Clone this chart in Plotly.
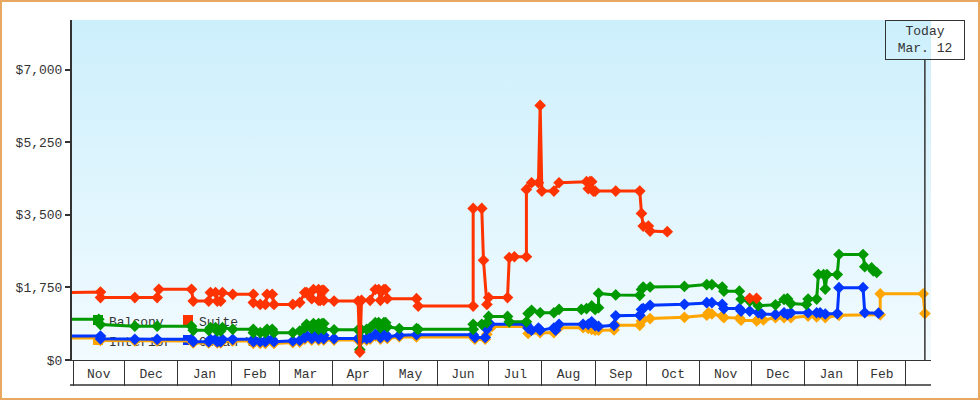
import base64
import plotly.graph_objects as go

# ---------------- data ----------------
suite_dates = [
    "2017-10-31", "2017-11-17", "2017-11-17", "2017-12-07", "2017-12-20", "2017-12-21",
    "2018-01-09", "2018-01-10", "2018-01-19", "2018-01-20", "2018-01-23", "2018-01-24",
    "2018-01-26", "2018-01-27", "2018-02-02", "2018-02-14", "2018-02-14", "2018-02-18",
    "2018-02-21", "2018-02-22", "2018-02-25", "2018-02-26", "2018-03-09", "2018-03-13",
    "2018-03-16", "2018-03-17", "2018-03-20", "2018-03-21", "2018-03-24", "2018-03-24",
    "2018-03-25", "2018-03-26", "2018-03-27", "2018-03-27", "2018-04-02", "2018-04-16",
    "2018-04-17", "2018-04-18", "2018-04-23", "2018-04-26", "2018-04-28", "2018-04-29",
    "2018-05-01", "2018-05-02", "2018-05-03", "2018-05-20", "2018-05-21", "2018-06-22",
    "2018-06-22", "2018-06-27", "2018-06-28", "2018-06-30", "2018-07-01", "2018-07-12",
    "2018-07-13", "2018-07-16", "2018-07-23", "2018-07-23", "2018-07-26", "2018-07-30",
    "2018-07-31", "2018-08-01", "2018-08-08", "2018-08-11", "2018-08-27", "2018-08-28",
    "2018-08-29", "2018-08-30", "2018-08-31", "2018-09-01", "2018-09-13", "2018-09-27",
    "2018-09-28", "2018-09-29", "2018-10-02", "2018-10-03", "2018-10-13", None,
    "2018-11-30", "2018-12-04",
]
suite_prices = [
    1625, 1640, 1505, 1505, 1505, 1705,
    1705, 1420, 1420, 1625, 1625, 1420,
    1420, 1625, 1585, 1585, 1385, 1340,
    1340, 1585, 1585, 1340, 1340, 1385,
    1625, 1625, 1480, 1700, 1700, 1440,
    1440, 1680, 1680, 1440, 1420, 1420,
    190, 1440, 1440, 1700, 1700, 1440,
    1700, 1700, 1480, 1480, 1300, 1300,
    3655, 3655, 2405, 1340, 1505, 1505,
    2470, 2490, 2490, 4115, 4275, 4275,
    6140, 4075, 4075, 4275, 4300, 4130,
    4300, 4300, 4075, 4075, 4075, 4075,
    3535, 3230, 3230, 3110, 3095, None,
    1487, 1487,
]

balcony_dates = [
    "2017-10-31", "2017-11-16", "2017-11-17", "2017-12-07", "2017-12-20", "2018-01-09",
    "2018-01-10", "2018-01-19", "2018-01-20", "2018-01-23", "2018-01-24", "2018-01-26",
    "2018-01-27", "2018-02-02", "2018-02-14", "2018-02-14", "2018-02-18", "2018-02-21",
    "2018-02-22", "2018-02-25", "2018-02-26", "2018-03-09", "2018-03-13", "2018-03-16",
    "2018-03-17", "2018-03-20", "2018-03-21", "2018-03-24", "2018-03-24", "2018-03-26",
    "2018-03-27", "2018-03-27", "2018-04-02", "2018-04-16", "2018-04-17", "2018-04-18",
    "2018-04-21", "2018-04-23", "2018-04-26", "2018-04-28", "2018-04-29", "2018-05-01",
    "2018-05-02", "2018-05-03", "2018-05-10", "2018-05-20", "2018-05-21", "2018-06-22",
    "2018-06-22", "2018-06-27", "2018-06-30", "2018-07-01", "2018-07-12", "2018-07-13",
    "2018-07-23", "2018-07-24", "2018-07-26", "2018-07-31", "2018-08-08", "2018-08-11",
    "2018-08-24", "2018-08-27", "2018-08-30", "2018-09-01", "2018-09-03", "2018-09-03",
    "2018-09-13", "2018-09-27", "2018-09-28", "2018-09-29", "2018-10-03", "2018-10-23",
    "2018-11-05", "2018-11-08", "2018-11-14", "2018-11-15", "2018-11-24", "2018-11-25",
    "2018-11-30", "2018-12-05", "2018-12-15", "2018-12-20", "2018-12-22", "2018-12-24",
    "2019-01-02", "2019-01-03", "2019-01-08", "2019-01-09", "2019-01-12", "2019-01-13",
    "2019-01-14", "2019-01-20", "2019-01-21", "2019-02-04", "2019-02-05", "2019-02-09",
    "2019-02-10", "2019-02-12",
]
balcony_prices = [
    980, 980, 855, 815, 815, 815,
    715, 715, 780, 780, 700, 700,
    780, 740, 740, 660, 660, 660,
    740, 740, 660, 660, 700, 780,
    860, 760, 880, 880, 740, 880,
    880, 740, 730, 730, 250, 730,
    740, 780, 900, 900, 780, 900,
    900, 800, 760, 760, 740, 740,
    860, 860, 900, 1050, 1050, 920,
    920, 1120, 1200, 1140, 1140, 1220,
    1220, 1240, 1305, 1220, 1260, 1605,
    1570, 1560, 1700, 1760, 1760, 1775,
    1820, 1820, 1760, 1660, 1660, 1465,
    1420, 1310, 1330, 1460, 1480, 1360,
    1340, 1470, 1470, 2060, 2060, 1710,
    2060, 2060, 2545, 2545, 2250, 2220,
    2150, 2110,
]

ocean_dates = [
    "2017-10-31", "2017-11-17", "2017-11-17", "2017-12-07", "2017-12-20", "2018-01-09",
    "2018-01-10", "2018-01-19", "2018-01-20", "2018-01-23", "2018-01-24", "2018-01-26",
    "2018-01-27", "2018-02-02", "2018-02-14", "2018-02-14", "2018-02-18", "2018-02-21",
    "2018-02-22", "2018-02-25", "2018-02-26", "2018-03-09", "2018-03-13", "2018-03-16",
    "2018-03-17", "2018-03-20", "2018-03-21", "2018-03-24", "2018-03-24", "2018-03-26",
    "2018-03-27", "2018-03-27", "2018-04-02", "2018-04-16", "2018-04-18", "2018-04-21",
    "2018-04-23", "2018-04-26", "2018-04-28", "2018-04-29", "2018-05-01", "2018-05-02",
    "2018-05-03", "2018-05-10", "2018-05-20", "2018-06-22", "2018-06-23", "2018-06-29",
    "2018-06-30", "2018-07-02", "2018-07-23", "2018-07-24", "2018-07-26", "2018-07-30",
    "2018-07-31", "2018-08-08", "2018-08-09", "2018-08-11", "2018-08-25", "2018-08-28",
    "2018-08-30", "2018-09-01", "2018-09-03", "2018-09-12", "2018-09-13", "2018-09-27",
    "2018-09-28", "2018-09-29", "2018-10-03", "2018-10-23", "2018-11-05", "2018-11-08",
    "2018-11-14", "2018-11-15", "2018-11-24", "2018-11-25", "2018-11-30", "2018-12-05",
    "2018-12-07", "2018-12-15", "2018-12-20", "2018-12-22", "2018-12-24", "2019-01-03",
    "2019-01-08", "2019-01-10", "2019-01-13", "2019-01-20", "2019-01-21", "2019-02-04",
    "2019-02-05", "2019-02-13",
]
ocean_prices = [
    578, 578, 510, 499, 499, 499,
    440, 440, 499, 499, 440, 440,
    499, 499, 499, 440, 440, 440,
    499, 499, 440, 458, 470, 540,
    595, 520, 595, 595, 516, 595,
    595, 516, 516, 516, 516, 516,
    540, 620, 620, 540, 620, 620,
    560, 595, 610, 610, 545, 545,
    740, 865, 865, 770, 720, 770,
    720, 770, 720, 860, 860, 860,
    920, 830, 810, 836, 1065, 1077,
    1220, 1240, 1318, 1342, 1383, 1383,
    1342, 1240, 1240, 1180, 1180, 1140,
    1110, 1100, 1140, 1100, 1140, 1140,
    1140, 1140, 1110, 1120, 1745, 1745,
    1140, 1130,
]

interior_dates = [
    "2017-10-31", "2017-11-17", "2017-11-17", "2017-12-07", "2017-12-20", "2018-01-09",
    "2018-01-10", "2018-01-19", "2018-01-20", "2018-01-23", "2018-01-24", "2018-01-26",
    "2018-01-27", "2018-02-02", "2018-02-14", "2018-02-14", "2018-02-18", "2018-02-21",
    "2018-02-22", "2018-02-25", "2018-02-26", "2018-03-09", "2018-03-13", "2018-03-16",
    "2018-03-17", "2018-03-20", "2018-03-21", "2018-03-24", "2018-03-24", "2018-03-26",
    "2018-03-27", "2018-03-27", "2018-04-02", "2018-04-16", "2018-04-18", "2018-04-21",
    "2018-04-23", "2018-04-26", "2018-04-28", "2018-04-29", "2018-05-01", "2018-05-02",
    "2018-05-03", "2018-05-10", "2018-05-20", "2018-06-22", "2018-06-23", "2018-06-29",
    "2018-06-30", "2018-07-03", "2018-07-23", "2018-07-24", "2018-07-31", "2018-08-08",
    "2018-08-11", "2018-08-25", "2018-08-28", "2018-08-30", "2018-09-01", "2018-09-03",
    "2018-09-12", "2018-09-13", "2018-09-27", "2018-09-28", "2018-09-29", "2018-10-03",
    "2018-10-23", "2018-11-05", "2018-11-06", "2018-11-08", "2018-11-14", "2018-11-15",
    "2018-11-24", "2018-11-25", "2018-12-04", "2018-12-05", "2018-12-08", "2018-12-15",
    "2018-12-20", "2018-12-24", "2019-01-03", "2019-01-08", "2019-01-13", "2019-01-21",
    "2019-02-14", "2019-02-14", "2019-03-11", "2019-03-12",
]
interior_prices = [
    530, 530, 470, 460, 460, 460,
    410, 410, 460, 460, 410, 410,
    460, 460, 460, 400, 400, 400,
    460, 460, 400, 420, 430, 500,
    555, 480, 555, 555, 480, 555,
    555, 480, 480, 480, 480, 480,
    500, 580, 580, 500, 580, 580,
    520, 555, 555, 555, 500, 500,
    620, 810, 810, 640, 660, 660,
    780, 780, 760, 740, 720, 720,
    723, 836, 836, 940, 980, 1000,
    1030, 1080, 1140, 1110, 1060, 1022,
    1010, 960, 945, 980, 965, 1020,
    1020, 1020, 1060, 1040, 1022, 1077,
    1090, 1595, 1595, 1120,
]

series_names = ["Interior", "Ocean View", "Balcony", "Suite"]
series_colors = ["#FFA500", "#0036FF", "#009900", "#FF3300"]
series_dates = [interior_dates, ocean_dates, balcony_dates, suite_dates]
series_prices = [interior_prices, ocean_prices, balcony_prices, suite_prices]

y_ticks = [0, 1750, 3500, 5250, 7000]
y_tick_labels = ["$0", "$1,750", "$3,500", "$5,250", "$7,000"]
today_date = "2019-03-12"
today_label = "Today<br>Mar. 12"
x_range = ["2017-10-31 10:00", "2019-03-15 13:40"]
y_range = [0, 8200]

# legend entries (column, row)
legend_items = [("Balcony", "#009900", 0, 0), ("Suite", "#FF3300", 1, 0),
                ("Interior", "#FFA500", 0, 1), ("Ocean View", "#0036FF", 1, 1)]

# ---------------- styling ----------------
FONT = "Liberation Mono"
TXT = "#333333"
AX = "#333333"
L, R, T, B = 72, 49, 20, 40
W, H = 980, 400
PW, PH = W - L - R, H - T - B

fig = go.Figure()
for name, col, xs, ys in zip(series_names, series_colors, series_dates, series_prices):
    fig.add_trace(go.Scatter(
        x=xs, y=ys, name=name, mode="lines+markers",
        line=dict(color=col, width=3),
        marker=dict(symbol="diamond", size=9, color=col),
        connectgaps=False, cliponaxis=False, hoverinfo="skip",
    ))

# vertical gradient background for the plot area
svg = ("<svg xmlns='http://www.w3.org/2000/svg' width='100' height='100' preserveAspectRatio='none'>"
       "<defs><linearGradient id='g' x1='0' y1='0' x2='0' y2='1'>"
       "<stop offset='0' stop-color='#CCEFFC'/><stop offset='1' stop-color='#F2FBFF'/>"
       "</linearGradient></defs><rect width='100' height='100' fill='url(#g)'/></svg>")
src = "data:image/svg+xml;base64," + base64.b64encode(svg.encode()).decode()
fig.add_layout_image(source=src, xref="paper", yref="paper", x=0, y=1, sizex=1, sizey=1,
                     xanchor="left", yanchor="top", sizing="stretch", layer="below")


def px_x(p):
    return p / PW


def px_y(p):
    return p / PH


shapes = []
# outer border of the whole figure
shapes.append(dict(type="rect", xref="paper", yref="paper",
                   x0=px_x(-L + 1), x1=px_x(W - L - 1), y0=px_y(-B + 1), y1=px_y(H - B - 1),
                   line=dict(color="#E8A862", width=2), fillcolor="rgba(0,0,0,0)", layer="above"))
# bottom line of the month band
shapes.append(dict(type="line", xref="paper", yref="paper",
                   x0=px_x(-2), x1=1, y0=px_y(-25), y1=px_y(-25),
                   line=dict(color=AX, width=1.5), layer="above"))
# "today" marker line
shapes.append(dict(type="line", xref="x", yref="paper",
                   x0=today_date, x1=today_date, y0=0, y1=px_y(PH - 40),
                   line=dict(color=AX, width=1.5), layer="above"))
# legend (drawn beneath the data lines)
for text, col, cx, ry in legend_items:
    sx = 21 + cx * 90
    sy = 35 - ry * 20
    shapes.append(dict(type="rect", xref="paper", yref="paper",
                       x0=px_x(sx), x1=px_x(sx + 10), y0=px_y(sy), y1=px_y(sy + 10),
                       line=dict(width=0), fillcolor=col, layer="below"))
    shapes.append(dict(type="rect", xref="paper", yref="paper",
                       x0=px_x(sx + 13), x1=px_x(sx + 85), y0=px_y(sy - 2), y1=px_y(sy + 12),
                       line=dict(width=0), fillcolor="rgba(0,0,0,0)", layer="below",
                       label=dict(text=text, textposition="middle left", padding=0,
                                  font=dict(family=FONT, size=13, color=TXT))))

fig.update_layout(
    width=W, height=H,
    margin=dict(l=L, r=R, t=T, b=B),
    paper_bgcolor="white", plot_bgcolor="rgba(0,0,0,0)",
    showlegend=False,
    font=dict(family=FONT, size=13, color=TXT),
    shapes=shapes,
    xaxis=dict(
        type="date", range=x_range, showgrid=False, zeroline=False,
        showline=True, linecolor=AX, linewidth=1,
        tick0="2017-11-01", dtick="M1", tickformat="%b", ticklabelmode="period",
        ticklabeloverflow="hide past domain",
        ticks="outside", ticklen=25, tickwidth=1, tickcolor=AX,
        ticklabelstandoff=-24,
        tickfont=dict(family=FONT, size=13, color=TXT),
    ),
    yaxis=dict(
        range=y_range, showgrid=False, zeroline=False,
        showline=True, linecolor=AX, linewidth=2,
        tickvals=y_ticks, ticktext=y_tick_labels,
        ticks="outside", ticklen=5, tickwidth=2, tickcolor=AX,
        tickfont=dict(family=FONT, size=13, color=TXT),
    ),
    annotations=[dict(
        x=today_date, xref="x", y=1, yref="paper", xanchor="center", yanchor="top",
        text=today_label, showarrow=False, align="center",
        width=78, height=38, borderpad=0, bordercolor=AX, borderwidth=1,
        bgcolor="rgba(0,0,0,0)", font=dict(family=FONT, size=13, color=TXT),
    )],
)

fig.write_html("out.html")
